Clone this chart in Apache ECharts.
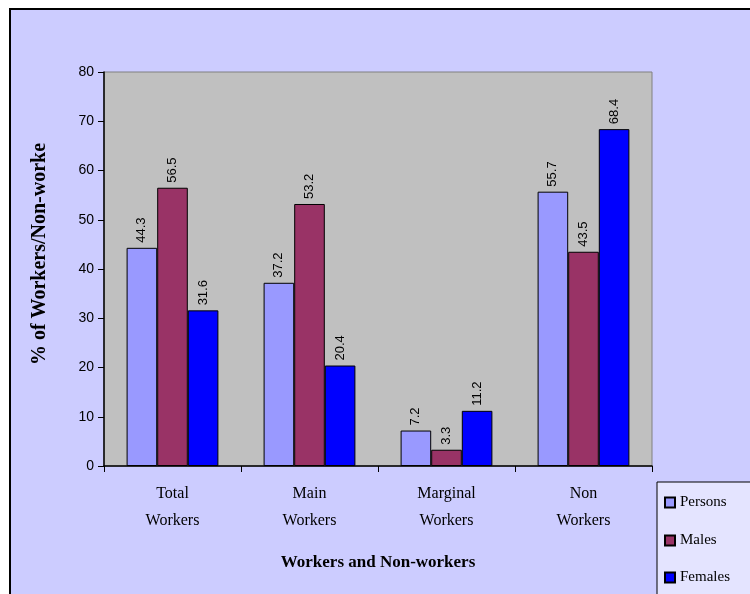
<!DOCTYPE html>
<html>
<head>
<meta charset="utf-8">
<script src="https://cdn.jsdelivr.net/npm/echarts@6/dist/echarts.min.js"></script>
<style>
    html, body { margin: 0; padding: 0; background: #fff; }
    #main { width: 750px; height: 594px; }
</style>
</head>
<body>
<div id="main"></div>
<script>
    var categories = ['Total\nWorkers', 'Main\nWorkers', 'Marginal\nWorkers', 'Non\nWorkers'];
    var persons = [44.3, 37.2, 7.2, 55.7];
    var males = [56.5, 53.2, 3.3, 43.5];
    var females = [31.6, 20.4, 11.2, 68.4];
    var yTicks = [0, 10, 20, 30, 40, 50, 60, 70, 80];
    var seriesNames = ['Persons', 'Males', 'Females'];

    var serif = '"Liberation Serif", "DejaVu Serif", serif';
    var sans = '"Liberation Sans", "DejaVu Sans", sans-serif';

    //label on top of each bar, rotated
    function barLabel() {
        return {
            show: true,
            position: 'top',
            rotate: 90,
            align: 'left',
            verticalAlign: 'middle',
            distance: 5,
            fontFamily: sans,
            fontSize: 13,
            color: '#000'
        };
    }

    function makeSeries(name, data, color) {
        return {
            name: name,
            type: 'bar',
            data: data,
            barGap: '0%',
            barCategoryGap: '33%',
            itemStyle: { color: color, borderColor: '#000', borderWidth: 1 },
            label: barLabel()
        };
    }

    // one legend per entry so the box does not wrap at the bottom edge
    function makeLegend(name, top) {
        return {
            orient: 'vertical',
            left: 664,
            top: top,
            icon: 'rect',
            itemWidth: 10,
            itemHeight: 10,
            padding: 0,
            textStyle: { fontFamily: serif, fontSize: 15, color: '#000' },
            data: [name]
        };
    }

    var myChart = echarts.init(document.getElementById('main'));
    var option = {
        animation: false,
        backgroundColor: '#fff',
        graphic: [
            {
                type: 'rect',
                z: -10,
                shape: { x: 10, y: 9, width: 760, height: 600 },
                style: { fill: '#CCCCFF', stroke: '#000', lineWidth: 2 }
            },
            {
                type: 'rect',
                z: -5,
                shape: { x: 657, y: 482, width: 100, height: 120 },
                style: { fill: '#E4E4FF', stroke: '#000', lineWidth: 1 }
            },
            {
                type: 'text',
                x: 40,
                y: 254,
                rotation: Math.PI / 2,
                style: {
                    text: '% of Workers/Non-worke',
                    font: 'bold 20px ' + serif,
                    fill: '#000',
                    align: 'center',
                    verticalAlign: 'middle'
                }
            }
        ],
        grid: {
            left: 104,
            right: 98,
            top: 72,
            bottom: 128,
            show: true,
            backgroundColor: '#C0C0C0',
            borderColor: '#808080',
            borderWidth: 1
        },
        legend: [
            makeLegend(seriesNames[0], 495),
            makeLegend(seriesNames[1], 533),
            makeLegend(seriesNames[2], 570)
        ],
        xAxis: {
            type: 'category',
            data: categories,
            name: 'Workers and Non-workers',
            nameLocation: 'middle',
            nameGap: 88,
            nameTextStyle: { fontFamily: serif, fontSize: 17, fontWeight: 'bold', color: '#000' },
            axisLine: { lineStyle: { color: '#000', width: 1.5 } },
            axisTick: { show: true, length: 6, lineStyle: { color: '#000' } },
            axisLabel: { fontFamily: serif, fontSize: 16, color: '#000', lineHeight: 27, margin: 14 }
        },
        yAxis: {
            type: 'value',
            min: yTicks[0],
            max: yTicks[yTicks.length - 1],
            interval: 10,
            splitLine: { show: false },
            axisLine: { show: true, lineStyle: { color: '#000', width: 1.5 } },
            axisTick: { show: true, length: 6, lineStyle: { color: '#000' } },
            axisLabel: { fontFamily: sans, fontSize: 14, color: '#000', margin: 10 }
        },
        series: [
            makeSeries(seriesNames[0], persons, '#9999FF'),
            makeSeries(seriesNames[1], males, '#993366'),
            makeSeries(seriesNames[2], females, '#0000FF')
        ]
    };
    myChart.setOption(option);
</script>
</body>
</html>
